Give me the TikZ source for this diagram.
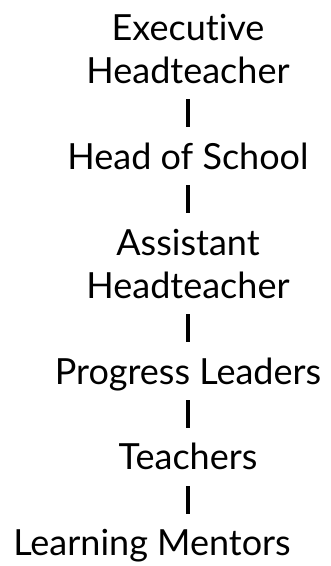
\documentclass[tikz,border=0pt]{standalone}
\usepackage{fontspec}
\setmainfont{Lato}[Ligatures=NoCommon]
\usetikzlibrary{positioning}

\begin{document}
\begin{tikzpicture}[
  role/.style={inner sep=0pt, align=center, font=\fontsize{36}{43}\selectfont},
  link/.style={black, line width=3.5pt, shorten <=3pt, shorten >=12pt},
  node distance=42.5pt
]
\useasboundingbox (0,0) rectangle (331pt,-566pt);

\node[role, anchor=north] (exec) at (188pt,-10pt) {\strut Executive\\Headteacher\strut};
\node[role, below=of exec] (head) {\strut Head of School\strut};
\node[role, below=of head] (asst) {\strut Assistant\\Headteacher\strut};
\node[role, below=of asst] (prog) {\strut Progress Leaders\strut};
\node[role, below=of prog] (teach) {\strut Teachers\strut};
\node[role, below=of teach, xshift=-36pt] (mentor) {\strut Learning Mentors\strut};

\draw[link] (exec) -- (head);
\draw[link] (head) -- (asst);
\draw[link] (asst) -- (prog);
\draw[link] (prog) -- (teach);
\draw[link] (teach.south) -- (teach.south |- mentor.north);
\end{tikzpicture}
\end{document}
